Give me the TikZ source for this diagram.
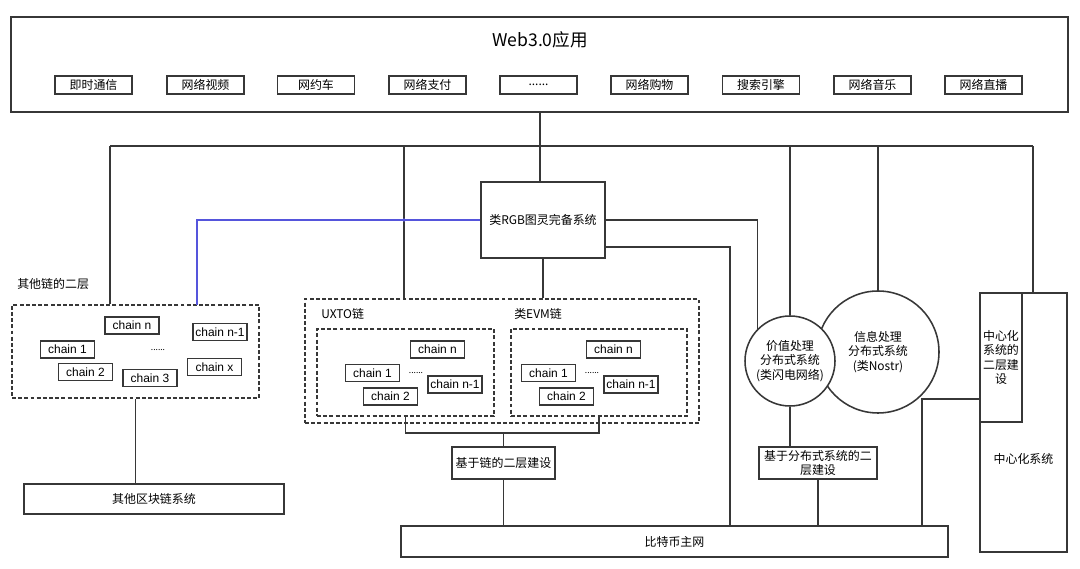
\documentclass[tikz,border=0pt]{standalone}
\usepackage{fontspec}
\setmainfont{Noto Sans CJK SC}
\newfontfamily\chainfont{Liberation Sans}
\definecolor{linegray}{RGB}{55,55,55}
\definecolor{linkblue}{RGB}{85,85,220}
\def\px{0.025cm}
\tikzset{
  box/.style 2 args={draw=linegray, line width=1.1pt, fill=white, inner sep=0pt, align=center,
    minimum width=#1*\px, minimum height=#2*\px, font=\fontsize{8.5}{10}\selectfont},
  dashbox/.style 2 args={box={#1}{#2}, dash pattern=on 2.8pt off 1.6pt},
  chainbox/.style={box={54}{17}, font=\chainfont\fontsize{8.5}{10}\selectfont},
  sysball/.style={circle, draw=linegray, line width=1.1pt, fill=white, inner sep=0pt, align=center,
    minimum size=#1*\px, font=\fontsize{8.5}{10.5}\selectfont},
  tag/.style={anchor=west, inner sep=0pt, font=\fontsize{8.5}{10}\selectfont},
  wire/.style={draw=linegray, line width=1.1pt},
  bluewire/.style={draw=linkblue, line width=1.1pt},
}
\begin{document}
\begin{tikzpicture}[x=\px, y=-\px]
\useasboundingbox (0,0) rectangle (1080,569);

% Web3.0 apps on top
\node[box={1057}{95}] (app) at (539.5, 64.5) {};
\node[inner sep=0pt, font=\fontsize{12.5}{14}\selectfont] (apptitle) at (540, 40) {Web3.0应用};
\node[box={77}{18}] (im) at (93.5, 85) {即时通信};
\node[box={77}{18}] (video) at (205.5, 85) {网络视频};
\node[box={77}{18}] (taxi) at (316, 85) {网约车};
\node[box={77}{18}] (pay) at (427.5, 85) {网络支付};
\node[box={77}{18}] (more) at (538.5, 85) {......};
\node[box={77}{18}] (shop) at (649.5, 85) {网络购物};
\node[box={77}{18}] (search) at (761, 85) {搜索引擎};
\node[box={77}{18}] (music) at (872.5, 85) {网络音乐};
\node[box={77}{18}] (live) at (983.5, 85) {网络直播};

% Turing complete system
\node[box={124}{76}] (rgb) at (543, 220) {类RGB图灵完备系统};

% Layer two of other chains
\node[tag] (otherl2tag) at (17, 284) {其他链的二层};
\node[dashbox={247}{93}] (otherl2) at (135.5, 351.5) {};
\node[chainbox] (ochn) at (132, 325.5) {chain n};
\node[chainbox] (ochnm) at (220, 332) {chain n-1};
\node[chainbox] (och1) at (67.5, 349.5) {chain 1};
\node[chainbox] (och2) at (85.5, 372) {chain 2};
\node[chainbox] (och3) at (150, 378) {chain 3};
\node[chainbox] (ochx) at (214.5, 367) {chain x};
\node[inner sep=0pt, font=\fontsize{6}{7}\selectfont] (odots) at (158, 350) {......};
\node[box={260}{30}] (otherchain) at (154, 499) {其他区块链系统};

% UXTO and EVM chains
\node[dashbox={394}{124}] (chains) at (502, 361) {};
\node[tag] (uxtotag) at (321, 314) {UXTO链};
\node[tag] (evmtag) at (514, 314) {类EVM链};
\node[dashbox={177}{87}] (uxto) at (405.5, 372.5) {};
\node[dashbox={176}{87}] (evm) at (599, 372.5) {};
\node[chainbox] (uchn) at (437.5, 349.5) {chain n};
\node[chainbox] (uch1) at (372.5, 373) {chain 1};
\node[chainbox] (uch2) at (390.5, 396.5) {chain 2};
\node[chainbox] (uchnm) at (455, 384.5) {chain n-1};
\node[inner sep=0pt, font=\fontsize{6}{7}\selectfont] (udots) at (416, 373) {......};
\node[chainbox] (echn) at (613.5, 349.5) {chain n};
\node[chainbox] (ech1) at (548.5, 373) {chain 1};
\node[chainbox] (ech2) at (566.5, 396.5) {chain 2};
\node[chainbox] (echnm) at (631, 384.5) {chain n-1};
\node[inner sep=0pt, font=\fontsize{6}{7}\selectfont] (edots) at (592, 373) {......};
\node[box={103}{32}] (l2chain) at (503.5, 463) {基于链的二层建设};

% Distributed systems
\node[sysball=122] (infosys) at (878, 352) {信息处理\\分布式系统\\(类Nostr)};
\node[sysball=90] (valuesys) at (790, 361) {价值处理\\分布式系统\\(类闪电网络)};
\node[box={118}{32}] (l2dist) at (818, 463) {基于分布式系统的二\\层建设};

% Centralized systems
\node[box={87}{259}, label={[font=\fontsize{8.5}{10}\selectfont, yshift=-0.91cm]center:中心化系统}] (central) at (1023.5, 422.5) {};
\node[box={42}{129}] (centrall2) at (1001, 357.5) {中心化\\系统的\\二层建\\设};

% Bitcoin main net
\node[box={547}{31}] (bitcoin) at (674.5, 541.5) {比特币主网};

% Connectors
\coordinate (bus) at (540, 146);
\coordinate (busL) at (110, 146);
\coordinate (busR) at (1033, 146);
\coordinate (busU) at (404, 146);
\coordinate (bluedrop) at (197, 305);
\coordinate (rgbdown) at (730, 247);
\coordinate (cl2turn) at (922, 399);
\coordinate (brk) at (503.5, 433);

\draw[wire] (bus |- app.south) -- (bus |- rgb.north);
\draw[wire] (busL) -- (busR);
\draw[wire] (busL) -- (busL |- otherl2.north);
\draw[wire] (busU) -- (busU |- chains.north);
\draw[wire] (valuesys.north) -- (valuesys.north |- bus);
\draw[wire] (infosys.north) -- (infosys.north |- bus);
\draw[wire] (busR) -- (busR |- central.north);
\draw[wire] (rgb.south) -- (rgb.south |- chains.north);
\draw[bluewire] (rgb.west) -| (bluedrop);
\fill[linkblue] (404, 220) circle (1.3pt);
\draw[wire] (rgb.east) -| (valuesys.north west);
\draw[wire] (rgb.east |- rgbdown) -- (rgbdown) -- (rgbdown |- bitcoin.north);
\draw[wire] (uxto.south) |- (brk) -| (evm.south);
\draw[wire] (brk) -- (l2chain.north);
\draw[wire] (l2chain.south) -- (l2chain.south |- bitcoin.north);
\draw[wire] (otherl2.south) -- (otherl2.south |- otherchain.north);
\draw[wire] (valuesys.south) -- (valuesys.south |- l2dist.north);
\draw[wire] (l2dist.south) -- (l2dist.south |- bitcoin.north);
\draw[wire] (cl2turn -| centrall2.west) -- (cl2turn) -- (cl2turn |- bitcoin.north);
\end{tikzpicture}
\end{document}
